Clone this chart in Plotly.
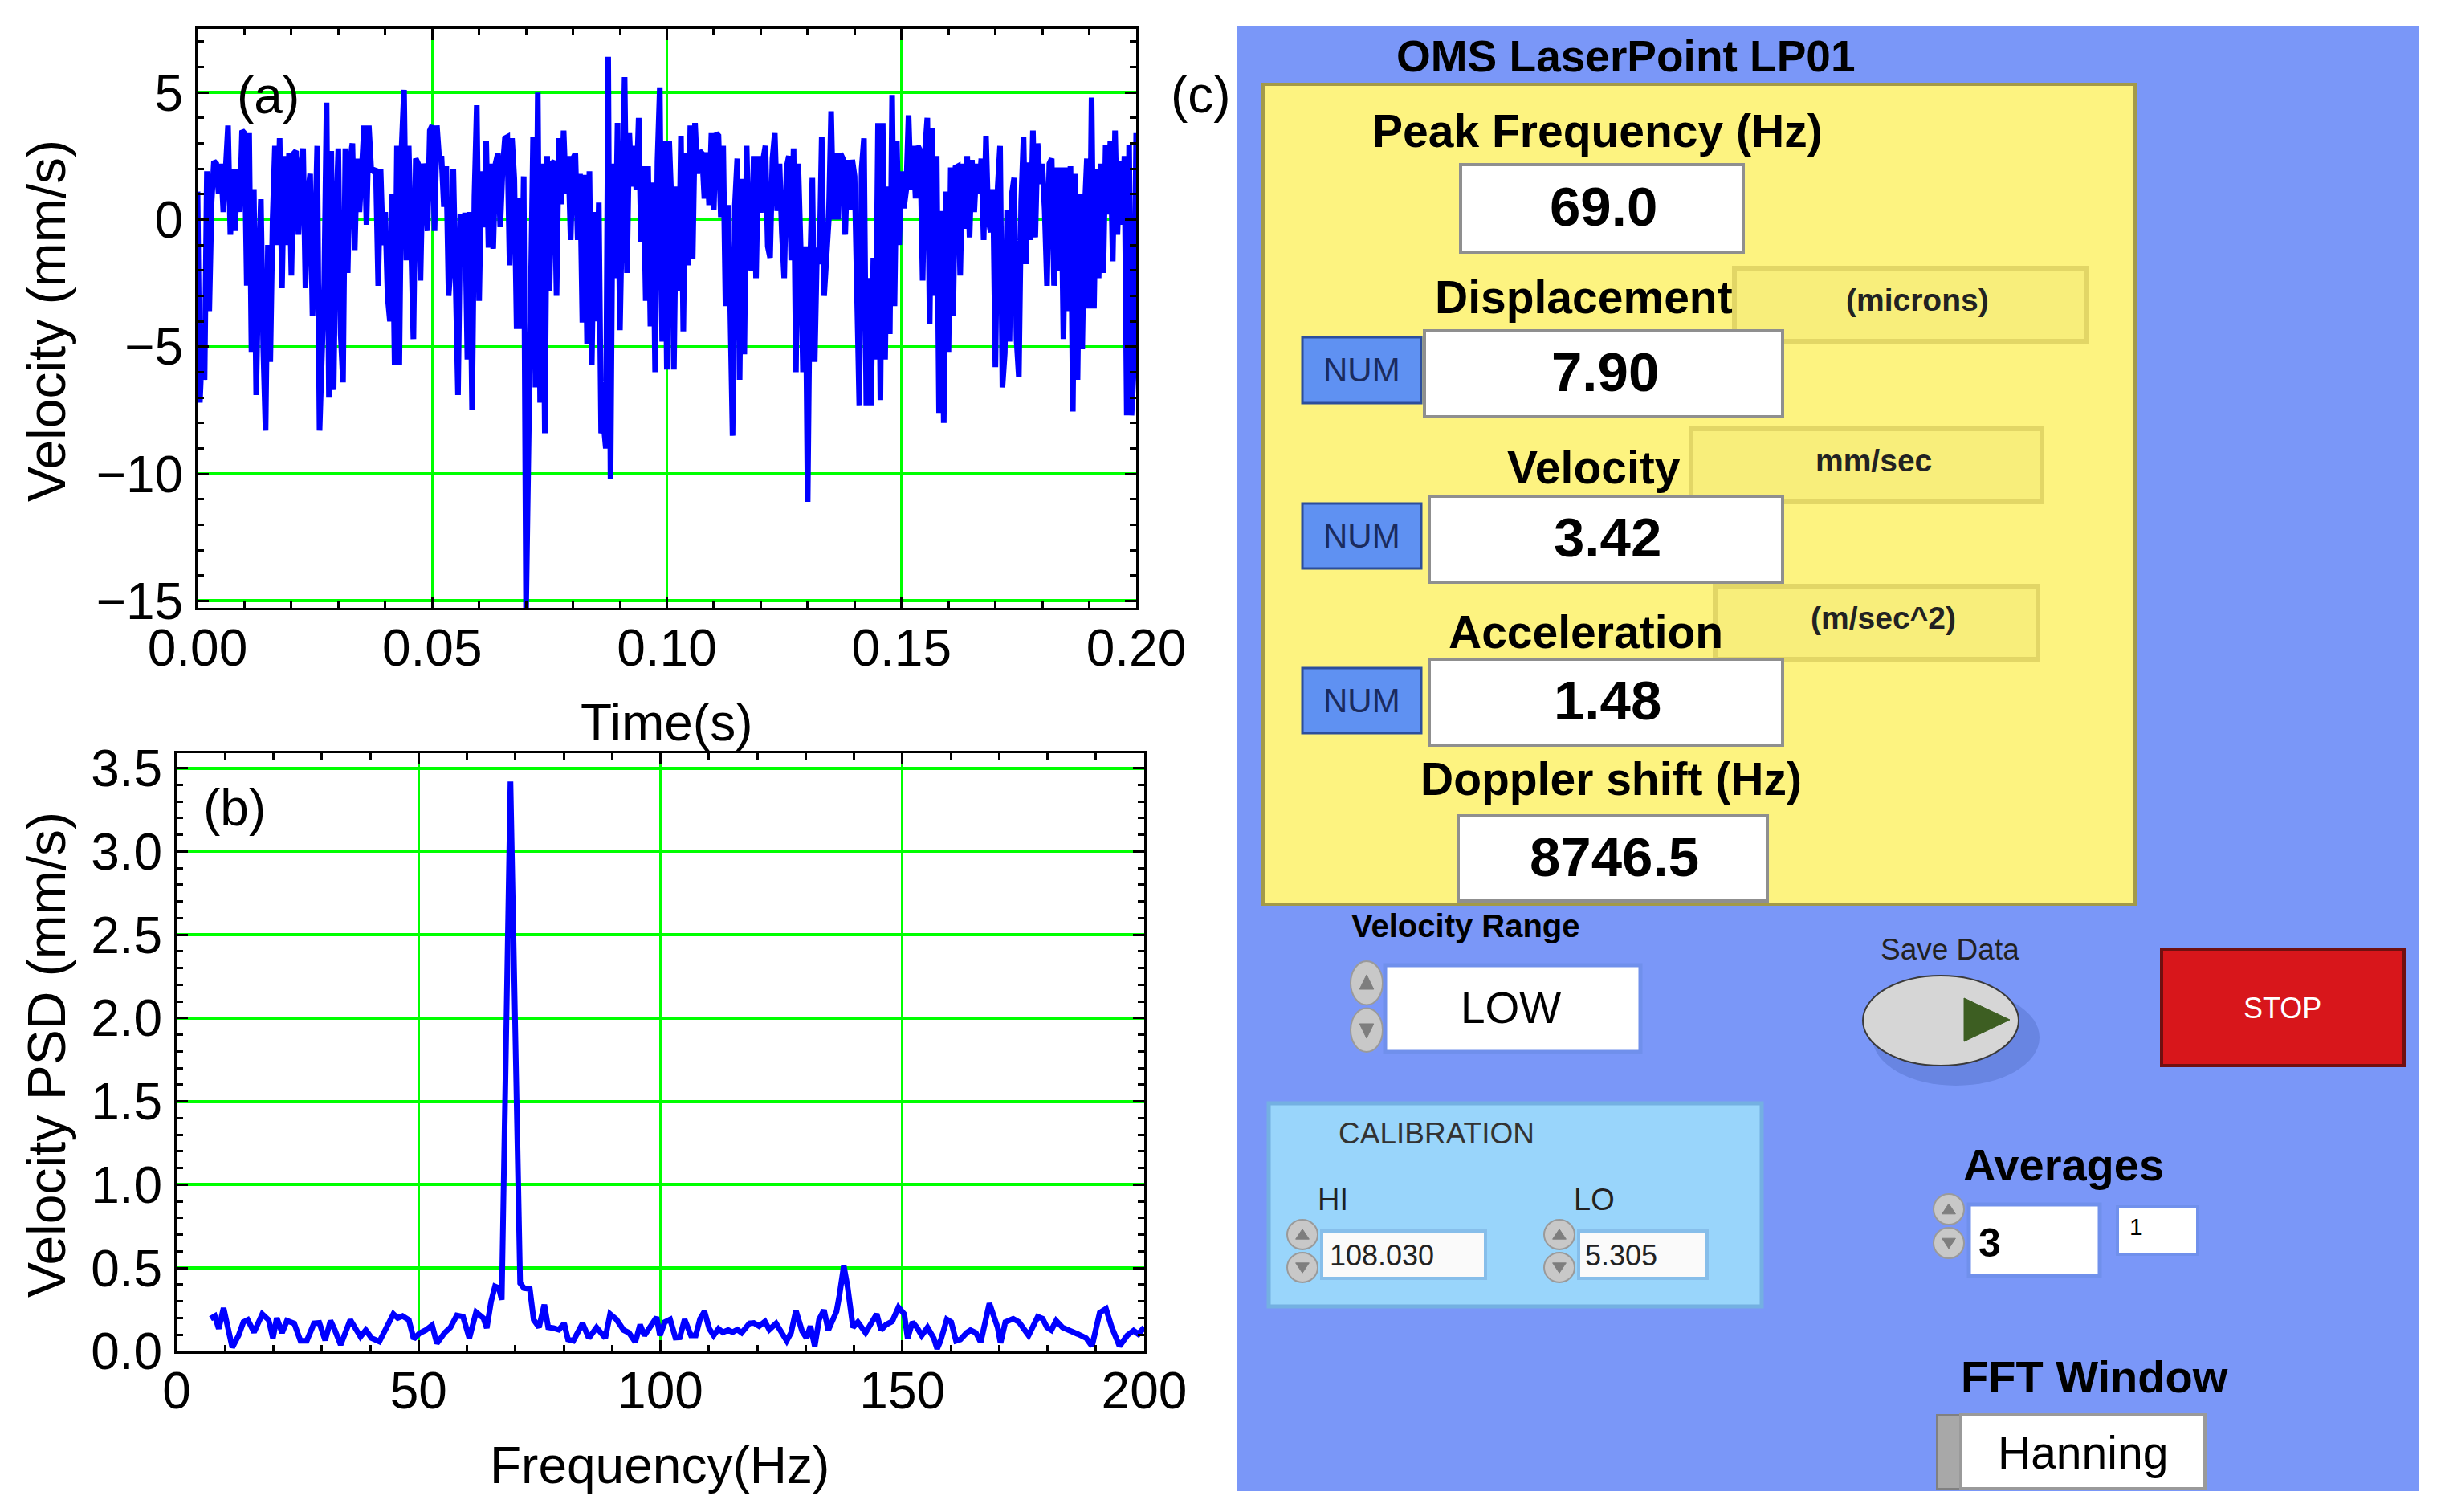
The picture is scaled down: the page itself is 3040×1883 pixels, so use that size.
import plotly.graph_objects as go

W, H = 3040, 1883

# ---------------- data ----------------
T_STEP = 0.0005  # s between velocity samples
velocity_mm_s = [
    1.1, -7.2, -5.0, -6.3, 1.9, -3.6, 0.7, 2.3, 2.2, 1.0,
    2.2, 0.3, 2.0, 3.7, -0.6, 2.0, -0.45, 2.0, 0.3, 3.5,
    3.4, -2.6, 3.4, -5.2, 1.2, -6.9, -2.0, 0.8, -5.0, -8.3,
    -1.0, -5.6, 0.0, 2.9, -1.0, 3.2, -2.7, 2.5, -1.0, 2.6,
    -2.2, 2.6, 2.7, -0.6, 2.0, 2.8, -2.7, 1.0, 1.8, -3.8,
    -1.0, 2.9, -8.3, -5.0, -2.5, 4.6, -7.0, 2.7, -6.7, 0.0,
    2.8, -4.5, -6.4, 2.8, -2.1, 2.3, 3.0, -1.2, 2.4, 0.3,
    2.2, 3.7, -0.2, 3.7, 2.0, 1.9, 2.0, -2.6, 2.0, -1.0,
    0.3, -3.0, -4.0, 1.0, -5.7, 2.9, -5.7, 2.9, 5.1, -1.6,
    2.9, -2.1, -4.7, 2.4, 2.2, -2.4, 2.2, 1.6, -0.45, 3.5,
    3.7, -0.45, 3.7, 2.4, 2.4, 0.5, 2.1, -3.0, -1.7, 2.0,
    -3.8, -6.9, 0.2, -1.0, 0.27, -5.5, 0.3, -7.5, 0.9, 4.5,
    -3.2, 1.9, -0.3, 3.1, -1.1, 2.2, -1.15, 2.2, 2.6, -0.3,
    2.0, 3.2, 3.25, -1.8, 3.2, 1.6, -4.3, 0.86, -4.3, 1.7,
    -15.4, -9.0, -1.0, 3.25, -6.6, 5.0, -7.2, 2.2, -8.4, 2.5,
    -2.8, 2.2, 2.3, -3.0, 3.2, 0.6, 3.5, 1.0, 2.5, -0.8,
    2.4, 2.6, -0.8, 1.8, -4.05, 1.76, -4.9, 1.9, -5.7, 0.3,
    -4.0, 0.67, -8.4, -8.0, -9.0, 6.4, -10.2, 2.2, -2.3, 3.8,
    -4.35, 1.5, 5.6, -2.1, 3.4, 1.3, 2.9, 1.16, 4.0, -0.9,
    2.1, -3.2, 2.1, -4.2, 1.46, -6.0, 2.3, 5.2, -4.8, 3.1,
    -5.9, 3.1, 0.57, -5.9, 1.3, -2.8, 3.3, -4.4, 2.6, -1.8,
    3.7, -1.55, 3.8, 1.8, 2.7, 2.6, 0.83, 2.65, 0.57, 3.4,
    0.4, 3.4, 3.3, 0.1, 2.9, -3.4, 0.57, -3.4, -8.5, 0.57,
    2.4, -6.3, 1.6, -5.3, 2.9, -1.1, -2.0, 2.5, -2.3, 2.5,
    0.27, 2.35, 2.9, -1.05, -1.5, 2.4, 3.4, 0.34, 2.2, -0.5,
    -2.3, 2.05, 2.5, -1.6, 2.8, -6.0, 2.2, -1.05, -6.0, -1.05,
    -11.1, -2.0, 1.64, -5.6, -1.1, -1.75, 3.25, -3.0, -1.75, 0.0,
    4.26, 0.0, 2.6, 0.0, 2.6, 2.4, -0.6, 2.35, 0.4, 2.35,
    1.7, -2.5, -7.3, 2.0, 3.2, -7.3, -2.3, -7.3, -1.5, -5.5,
    3.8, -7.1, 3.8, -5.5, 1.3, -4.5, 4.9, -3.4, 3.1, -1.0,
    1.9, 0.45, 1.16, 4.1, 1.16, 2.9, 0.83, 2.9, 2.7, -2.4,
    2.7, 4.0, -4.1, 3.6, -3.0, 2.5, -7.6, 0.34, -8.0, 1.1,
    -5.2, 2.05, -3.8, 2.05, 2.1, -2.2, 2.2, -0.36, 2.5, -0.7,
    2.35, 0.3, 2.2, 1.0, 2.4, -0.8, 3.3, 0.0, -0.5, 1.2,
    -5.8, 1.3, 2.9, -6.6, -5.25, 0.37, -4.8, 1.0, 1.64, -4.7,
    -6.2, 0.7, 3.25, -1.75, 2.25, -0.8, 3.5, -0.7, 3.0, 1.4,
    2.2, 0.4, -2.6, 2.2, 2.4, -2.6, 2.05, -2.0, 2.05, -4.7,
    2.05, -3.6, 2.1, -7.55, 1.8, -6.3, 1.0, -5.1, 0.27, 2.4,
    -3.5, 4.8, -3.5, 2.0, -2.3, 2.2, -2.1, 2.95, 0.2, 3.1,
    -1.64, 3.5, -0.6, 2.3, -0.2, 2.5, -7.7, 2.95, -7.7, -5.85,
    3.4,
]
time_s = [round(i * T_STEP, 4) for i in range(len(velocity_mm_s))]

freq_hz = [
    7.0, 7.9, 8.7, 9.7, 11.5, 12.8, 13.8, 14.7, 16.0, 17.7,
    19.0, 19.9, 20.7, 21.8, 22.8, 24.3, 25.6, 26.9, 28.4, 29.5,
    30.7, 31.8, 32.7, 33.9, 35.9, 37.1, 38.0, 39.1, 40.3, 41.9,
    43.5, 44.8, 45.7, 46.7, 48.0, 49.0, 50.2, 51.5, 52.8, 53.8,
    55.4, 56.6, 57.9, 59.2, 60.5, 61.9, 63.4, 64.1, 65.0, 65.8,
    66.6, 67.2, 69.0, 71.0, 71.8, 73.0, 73.8, 74.9, 76.0, 76.8,
    77.9, 79.0, 80.1, 80.9, 82.0, 83.2, 83.9, 85.2, 86.8, 88.6,
    89.6, 90.9, 92.4, 93.5, 94.8, 95.8, 96.7, 99.2, 99.9, 100.9,
    102.0, 103.1, 104.0, 105.0, 106.3, 107.3, 108.2, 109.1, 110.1, 111.0,
    112.0, 112.9, 114.0, 114.9, 115.9, 116.8, 118.4, 119.3, 120.4, 121.6,
    122.5, 123.9, 125.2, 126.1, 127.0, 128.0, 129.3, 130.2, 131.0, 131.9,
    132.8, 133.8, 134.7, 135.7, 136.4, 137.0, 137.9, 138.7, 139.3, 139.8,
    140.8, 142.4, 144.7, 145.6, 146.6, 147.9, 149.2, 150.4, 151.1, 152.1,
    153.0, 154.0, 155.2, 156.5, 157.2, 157.9, 159.2, 160.1, 161.1, 162.0,
    163.3, 164.1, 165.2, 166.2, 168.0, 169.7, 170.3, 171.3, 172.9, 174.1,
    176.1, 178.0, 179.0, 179.9, 180.8, 181.8, 183.1, 184.4, 186.3, 188.0,
    189.2, 190.8, 192.1, 193.3, 194.9, 196.5, 197.8, 198.8, 200.0,
]
psd_mm_s = [
    0.196, 0.212, 0.136, 0.26, 0.024, 0.096, 0.176, 0.189, 0.115, 0.224,
    0.189, 0.08, 0.2, 0.112, 0.184, 0.168, 0.064, 0.064, 0.168, 0.171,
    0.067, 0.184, 0.128, 0.04, 0.189, 0.136, 0.088, 0.128, 0.08, 0.059,
    0.144, 0.224, 0.2, 0.212, 0.189, 0.075, 0.109, 0.128, 0.157, 0.048,
    0.112, 0.144, 0.216, 0.208, 0.08, 0.235, 0.2, 0.14, 0.3, 0.39,
    0.38, 0.31, 3.42, 0.41, 0.38, 0.375, 0.19, 0.145, 0.28, 0.145,
    0.14, 0.13, 0.168, 0.072, 0.064, 0.136, 0.168, 0.08, 0.144, 0.08,
    0.224, 0.192, 0.128, 0.112, 0.056, 0.16, 0.096, 0.205, 0.096, 0.176,
    0.192, 0.083, 0.085, 0.192, 0.096, 0.096, 0.196, 0.24, 0.136, 0.096,
    0.136, 0.115, 0.128, 0.115, 0.131, 0.112, 0.168, 0.171, 0.152, 0.179,
    0.131, 0.168, 0.112, 0.064, 0.112, 0.244, 0.12, 0.08, 0.152, 0.032,
    0.192, 0.248, 0.128, 0.2, 0.24, 0.337, 0.513, 0.385, 0.224, 0.144,
    0.176, 0.112, 0.224, 0.128, 0.16, 0.18, 0.264, 0.224, 0.08, 0.176,
    0.144, 0.096, 0.144, 0.08, 0.016, 0.064, 0.192, 0.176, 0.064, 0.072,
    0.112, 0.128, 0.112, 0.056, 0.288, 0.144, 0.051, 0.176, 0.196, 0.176,
    0.096, 0.208, 0.196, 0.144, 0.128, 0.184, 0.144, 0.131, 0.104, 0.08,
    0.032, 0.232, 0.256, 0.144, 0.032, 0.096, 0.125, 0.104, 0.144,
]
assert len(freq_hz) == len(psd_mm_s)

# panel (c) readouts
panel_title = "OMS LaserPoint LP01"
readout_labels = ["Peak Frequency (Hz)", "Displacement", "Velocity", "Acceleration", "Doppler shift (Hz)"]
readout_values = ["69.0", "7.90", "3.42", "1.48", "8746.5"]
readout_units = ["(microns)", "mm/sec", "(m/sec^2)"]
calib_hi, calib_lo = "108.030", "5.305"
averages_vals = ["3", "1"]
velocity_range = "LOW"
fft_window = "Hanning"

# ---------------- helpers ----------------
def px(x):
    return x / W

def py(y):
    return 1 - y / H

FONT = "Liberation Sans, Arial, sans-serif"
shapes = []
annotations = []

def rect(x0, y0, x1, y1, fill, line=None, lw=0, opacity=1.0, kind="rect"):
    shapes.append(dict(type=kind, xref="paper", yref="paper",
                       x0=px(x0), x1=px(x1), y0=py(y1), y1=py(y0),
                       fillcolor=fill, opacity=opacity,
                       line=dict(color=line if line else fill, width=lw)))

def tri(points, fill):
    d = "M " + " L ".join(f"{px(x)},{py(y)}" for x, y in points) + " Z"
    shapes.append(dict(type="path", xref="paper", yref="paper", path=d,
                       fillcolor=fill, line=dict(color=fill, width=1)))

def text(x, y, s, size, bold=False, color="black", xanchor="center", angle=0):
    annotations.append(dict(xref="paper", yref="paper", x=px(x), y=py(y), text=s,
                            showarrow=False, xanchor=xanchor, yanchor="middle",
                            textangle=angle,
                            font=dict(family=FONT, size=size, color=color,
                                      weight=700 if bold else 400)))

def spinner(x0, y0, x1, y1):
    ym = (y0 + y1) / 2
    rect(x0, y0, x1, ym - 2, "#C8C8C8", "#9A9A9A", 2, kind="circle")
    rect(x0, ym + 2, x1, y1, "#C8C8C8", "#9A9A9A", 2, kind="circle")
    cx = (x0 + x1) / 2
    a = (x1 - x0) * 0.22
    tri([(cx - a, y0 + (ym - y0) * 0.62), (cx + a, y0 + (ym - y0) * 0.62), (cx, y0 + (ym - y0) * 0.3)], "#7E7E7E")
    tri([(cx - a, ym + (y1 - ym) * 0.38), (cx + a, ym + (y1 - ym) * 0.38), (cx, ym + (y1 - ym) * 0.7)], "#7E7E7E")

# ---------------- traces ----------------
fig = go.Figure()
fig.add_trace(go.Scatter(x=time_s, y=velocity_mm_s, mode="lines",
                         line=dict(color="#0000FF", width=7), xaxis="x", yaxis="y",
                         showlegend=False))
fig.add_trace(go.Scatter(x=freq_hz, y=psd_mm_s, mode="lines",
                         line=dict(color="#0000FF", width=7), xaxis="x2", yaxis="y2",
                         showlegend=False))

tickfont = dict(family=FONT, size=64, color="black")

def axis(domain, rng, dtick, minor_dtick, fmt, gridwidth, anchor, standoff):
    return dict(domain=domain, range=rng, dtick=dtick, tick0=0, tickformat=fmt,
                automargin=False,
                showline=True, linecolor="black", linewidth=3, mirror="ticks",
                ticks="inside", ticklen=14, tickwidth=3, tickcolor="black",
                showgrid=True, gridcolor="#00FF00", gridwidth=gridwidth,
                zeroline=False, tickfont=tickfont, anchor=anchor,
                ticklabelstandoff=standoff,
                minor=dict(dtick=minor_dtick, ticks="inside", ticklen=8, tickwidth=3,
                           tickcolor="black", showgrid=False))

layout = dict(
    width=W, height=H, margin=dict(l=0, r=0, t=0, b=0, autoexpand=False),
    paper_bgcolor="white", plot_bgcolor="white",
    font=dict(family=FONT),
    xaxis=axis([px(246), px(1415)], [0, 0.2], 0.05, 0.01, ".2f", 2.5, "y", -8),
    yaxis=axis([py(757), py(36)], [-15.27, 7.5], 5, 1, "d", 4, "x", 2),
    xaxis2=axis([px(220), px(1425)], [0, 200], 50, 10, "d", 2.5, "y2", -9),
    yaxis2=axis([py(1683), py(938)], [0, 3.59], 0.5, 0.1, ".1f", 4, "x2", 2),
)

# axis titles and panel labels
text(830, 900, "Time(s)", 64)
text(822, 1825, "Frequency(Hz)", 64)
text(58, 400, "Velocity (mm/s)", 66, angle=-90)
text(58, 1314, "Velocity PSD (mm/s)", 66, angle=-90)
text(334, 119, "(a)", 64)
text(292, 1006, "(b)", 64)
text(1495, 118, "(c)", 64)

# ---------------- panel (c): instrument front panel ----------------
rect(1541, 33, 3013, 1857, "#7A97F8")
# yellow readout panel
rect(1573, 105, 2659, 1126, "#FDF380", "#A39A48", 4)
text(2025, 70, panel_title, 55, bold=True)

# unit boxes
for (x0, y0, x1, y1), u in zip([(2160, 334, 2598, 425), (2106, 534, 2543, 625), (2136, 730, 2538, 821)],
                               readout_units):
    rect(x0, y0, x1, y1, "#F8EE7B", "#E2D666", 6)
    text((x0 + x1) / 2 + (x1 - x0) * 0.02, (y0 + y1) / 2 - 6, u, 39, bold=True, color="#222222")

# NUM buttons
for (y0, y1) in [(420, 502), (627, 708), (832, 913)]:
    rect(1622, y0, 1770, y1, "#5F91F2", "#2C4E9C", 3)
    text(1696, (y0 + y1) / 2, "NUM", 42, color="#1B2B5E")

# value boxes
value_boxes = [(1819, 205, 2171, 314), (1774, 412, 2220, 519), (1780, 618, 2220, 725),
               (1780, 821, 2220, 928), (1816, 1016, 2201, 1122)]
for (x0, y0, x1, y1), v in zip(value_boxes, readout_values):
    rect(x0, y0, x1, y1, "white", "#8F8F8F", 4)
    text((x0 + x1) / 2 + 2, (y0 + y1) / 2 - 2, v, 69, bold=True)

label_pos = [(1990, 163), (1973, 370), (1985, 582), (1975, 787), (2006, 970)]
for (x, y), s in zip(label_pos, readout_labels):
    text(x, y, s, 57, bold=True)

# velocity range selector
text(1826, 1153, "Velocity Range", 40, bold=True)
spinner(1682, 1197, 1722, 1310)
rect(1725, 1202, 2043, 1310, "white", "#7090EC", 5)
text(1881, 1255, velocity_range, 55)

# save data button
text(2428, 1182, "Save Data", 37, color="#222222")
rect(2332, 1232, 2540, 1352, "#5A76D0", opacity=0.55, kind="circle")
rect(2320, 1215, 2514, 1327, "#D6D6D6", "#3A3A3A", 2, kind="circle")
tri([(2446, 1243), (2503, 1270), (2446, 1297)], "#3D5E22")

# stop button
rect(2692, 1182, 2994, 1327, "#D8161B", "#701010", 4)
text(2842, 1255, "STOP", 36, color="white")

# calibration cluster
rect(1580, 1374, 2194, 1627, "#99D5FB", "#74B0E2", 5)
text(1789, 1411, "CALIBRATION", 37, color="#333333")
text(1660, 1494, "HI", 38, color="#222222")
text(1985, 1494, "LO", 38, color="#222222")
spinner(1603, 1519, 1641, 1597)
spinner(1923, 1519, 1961, 1597)
rect(1646, 1533, 1850, 1592, "#FAFAFA", "#86BEEA", 4)
rect(1966, 1533, 2126, 1592, "#FAFAFA", "#86BEEA", 4)
text(1654, 1563, calib_hi, 36, xanchor="left", color="#222222")
text(1972, 1563, calib_lo, 36, xanchor="left", color="#222222")

# averages
text(2570, 1450, "Averages", 56, bold=True)
spinner(2408, 1487, 2446, 1567)
rect(2452, 1500, 2615, 1589, "white", "#7090EC", 5)
rect(2637, 1503, 2737, 1562, "white", "#7090EC", 4)
text(2462, 1548, averages_vals[0], 50, bold=True, xanchor="left")
text(2650, 1527, averages_vals[1], 30, xanchor="left")

# FFT window
text(2608, 1714, "FFT Window", 56, bold=True)
rect(2412, 1762, 2442, 1854, "#A8A8A8", "#808080", 2)
rect(2442, 1762, 2746, 1854, "white", "#9A9A9A", 4)
text(2594, 1809, fft_window, 57)

layout["shapes"] = shapes
layout["annotations"] = annotations
fig.update_layout(**layout)

fig.write_html("out.html", config={"displayModeBar": False},
               post_script="document.body.style.margin='0';document.body.style.overflow='hidden';")
